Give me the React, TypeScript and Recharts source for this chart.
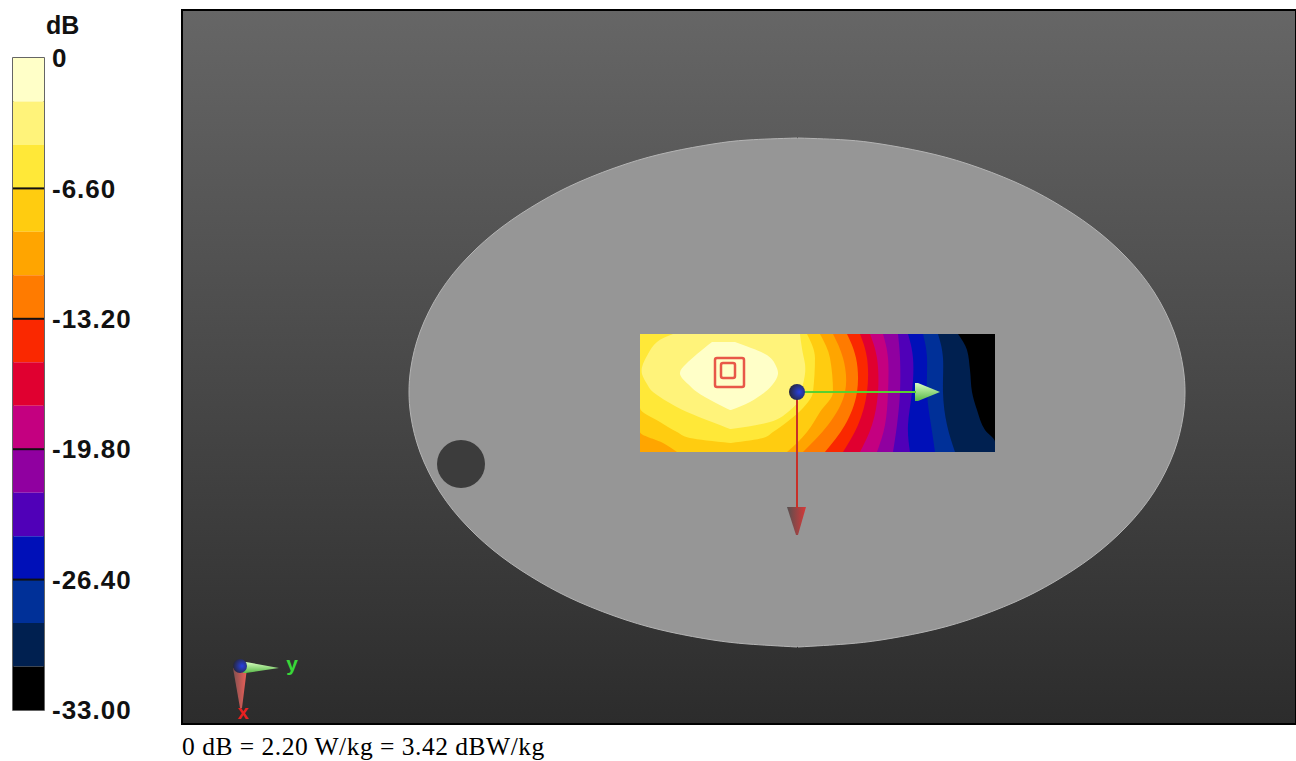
import React from "react";
import {
  Area,
  Bar,
  BarChart,
  ComposedChart,
  ReferenceArea,
  ReferenceDot,
  ReferenceLine,
  XAxis,
  YAxis,
} from "recharts";

// colour scale, 2.2 dB per step, top to bottom
const stepColors = [
  "#ffffc8", "#fff37a", "#ffe838", "#ffcc10", "#ffa500",
  "#ff7b00", "#fa2800", "#e00030", "#c40080", "#9000a0",
  "#5000b8", "#0010b8", "#003098", "#002050", "#000000",
];
const stepSize = [-2.2, -2.2, -2.2, -2.2, -2.2, -2.2, -2.2, -2.2, -2.2, -2.2, -2.2, -2.2, -2.2, -2.2, -2.2];
const dbTicks = [0, -6.6, -13.2, -19.8, -26.4, -33];

type Row = [number, number, number]; // y, left, right

// phantom outline, picture units
const phantom: Row[] = [
  [138, 797, 798], [140, 748, 846], [144, 713, 881], [152, 670, 924], [164, 626, 968], [182, 579, 1015],
  [202, 540, 1054], [227, 502, 1092], [257, 468, 1126], [292, 440, 1154], [332, 420, 1174], [367, 411, 1183],
  [392, 409, 1185], [417, 411, 1183], [452, 420, 1174], [492, 440, 1154], [527, 468, 1126], [557, 502, 1092],
  [582, 540, 1054], [602, 579, 1015], [620, 626, 968], [632, 670, 924], [640, 713, 881], [644, 748, 846], [647, 797, 798],
];

// iso-dB regions of the scan, from the lowest level up
const band14: Row[] = [[334, 640, 995], [452, 640, 995]];
const band13: Row[] = [[334, 640, 958], [350, 640, 967], [370, 640, 970], [392, 640, 972], [410, 640, 977], [430, 640, 985], [442, 640, 995], [452, 640, 995]];
const band12: Row[] = [[334, 640, 938], [358, 640, 943], [392, 640, 943], [425, 640, 947], [452, 640, 955]];
const band11: Row[] = [[334, 640, 923], [358, 640, 927], [392, 640, 927], [425, 640, 931], [452, 640, 935]];
const band10: Row[] = [[334, 640, 908], [358, 640, 913], [392, 640, 912], [425, 640, 908], [452, 640, 910]];
const band9: Row[] = [[334, 640, 898], [358, 640, 900], [392, 640, 900], [425, 640, 897], [452, 640, 893]];
const band8: Row[] = [[334, 640, 883], [358, 640, 888], [392, 640, 888], [425, 640, 885], [452, 640, 877]];
const band7: Row[] = [[334, 640, 870], [358, 640, 877], [392, 640, 878], [425, 640, 872], [452, 640, 860]];
const band6: Row[] = [[334, 640, 860], [358, 640, 867], [392, 640, 867], [425, 640, 858], [452, 640, 843]];
const band5: Row[] = [[334, 640, 847], [358, 640, 856], [392, 640, 857], [425, 640, 845], [452, 640, 825]];
const band4: Row[] = [[334, 640, 833], [358, 640, 843], [392, 640, 845], [425, 640, 828], [452, 640, 803]];
const band3: Row[] = [[334, 640, 820], [358, 640, 830], [392, 640, 833], [412, 640, 820], [432, 640, 807], [443, 663, 797], [452, 677, 787]];
const band2: Row[] = [[334, 640, 807], [358, 640, 815], [392, 640, 813], [408, 640, 803], [422, 660, 787], [432, 677, 773], [438, 690, 763], [443, 730, 731]];
const band1: Row[] = [[334, 673, 800], [342, 657, 801], [354, 648, 803], [364, 643, 805], [374, 642, 805], [384, 647, 803], [392, 653, 801], [402, 668, 798], [412, 687, 788], [422, 712, 770], [429, 730, 731]];
const band0: Row[] = [[342, 712, 735], [354, 697, 765], [364, 686, 775], [374, 680, 778], [384, 688, 773], [392, 697, 765], [402, 714, 750], [410, 730, 731]];
const bands = [band14, band13, band12, band11, band10, band9, band8, band7, band6, band5, band4, band3, band2, band1, band0];
// these touch the scan edge part way down, a natural spline overshoots there
const edgeBands = [band13, band3, band2];

// axis cones
const greenCone: Row[] = [[383, 915, 918], [392, 915, 940], [401, 915, 918]];
const redCone: Row[] = [[507, 787, 806], [535, 796, 798]];
const triadGreen: Row[] = [[662, 243, 246], [668, 243, 279], [673, 243, 246]];
const triadRed: Row[] = [[668, 233, 247], [708, 240, 242]];

const rows = (list: Row[]) => list.map(([y, l, r]) => ({ y, x: [l, r] }));
const colorRow = [{ name: "dB", ...Object.fromEntries(stepSize.map((v, i) => [`s${i}`, v])) }];

const labelFont = { fontFamily: "Liberation Sans", fontWeight: 700, fontSize: 26, fill: "#111", letterSpacing: 1 };

function ColorBar() {
  return (
    <BarChart
      width={180}
      height={730}
      data={colorRow}
      margin={{ top: 58, right: 36, left: 13, bottom: 20 }}
      barCategoryGap={0}
    >
      <XAxis hide dataKey="name" />
      <YAxis
        orientation="right"
        width={100}
        domain={[-33, 0]}
        ticks={dbTicks}
        interval={0}
        axisLine={false}
        tickLine={false}
        tickSize={0}
        tickMargin={8}
        tick={labelFont}
        tickFormatter={(v: number) => (v === 0 ? "0" : v.toFixed(2))}
      />
      {stepColors.map((c, i) => (
        <Bar key={c} dataKey={`s${i}`} stackId="db" fill={c} isAnimationActive={false} />
      ))}
      {dbTicks.slice(1, 5).map((t) => (
        <ReferenceLine key={t} y={t} stroke="#111" strokeWidth={2} />
      ))}
      <ReferenceArea y1={0} y2={-33} fill="none" stroke="#333" strokeWidth={1.5} />
    </BarChart>
  );
}

function FieldPlot() {
  return (
    <ComposedChart width={1296} height={761} layout="vertical" margin={{ top: 0, right: 0, left: 0, bottom: 0 }}>
      <defs>
        <linearGradient id="bgFill" x1="0" y1="0" x2="0" y2="1">
          <stop offset="0%" stopColor="#666666" />
          <stop offset="100%" stopColor="#2c2c2c" />
        </linearGradient>
        <linearGradient id="greenFill" x1="0" y1="0" x2="0" y2="1">
          <stop offset="0%" stopColor="#d8ffc0" />
          <stop offset="100%" stopColor="#58b848" />
        </linearGradient>
        <linearGradient id="redFill" x1="0" y1="0" x2="1" y2="0">
          <stop offset="0%" stopColor="#555050" />
          <stop offset="100%" stopColor="#d83838" />
        </linearGradient>
        <linearGradient id="triadRedFill" x1="0" y1="0" x2="1" y2="0">
          <stop offset="0%" stopColor="#805050" />
          <stop offset="100%" stopColor="#f06058" />
        </linearGradient>
        <radialGradient id="ballFill" cx="65%" cy="50%" r="65%">
          <stop offset="0%" stopColor="#2840e0" />
          <stop offset="100%" stopColor="#262638" />
        </radialGradient>
      </defs>
      <XAxis hide type="number" dataKey="x" domain={[0, 1296]} allowDataOverflow />
      <YAxis hide type="number" dataKey="y" domain={[0, 761]} allowDataOverflow />

      <ReferenceArea x1={182} x2={1296} y1={10} y2={724} fill="url(#bgFill)" fillOpacity={1} stroke="#000" strokeWidth={2} />

      <Area data={rows(phantom)} dataKey="x" type="natural" fill="#969696" fillOpacity={1} stroke="#b4b4b4" strokeWidth={1} isAnimationActive={false} />
      <ReferenceDot x={461} y={464} r={24} fill="#3c3c3c" stroke="none" />

      {bands.map((band, i) => (
        <Area
          key={i}
          data={rows(band)}
          dataKey="x"
          type={edgeBands.includes(band) ? "monotoneY" : "natural"}
          fill={stepColors[14 - i]}
          fillOpacity={1}
          stroke="none"
          isAnimationActive={false}
        />
      ))}

      <ReferenceArea x1={715} x2={744} y1={358} y2={387} fill="none" stroke="#e85848" strokeWidth={2.5} radius={2} />
      <ReferenceArea x1={721} x2={735} y1={363} y2={378} fill="none" stroke="#e85848" strokeWidth={2.5} radius={2} />

      <ReferenceLine segment={[{ x: 797, y: 392 }, { x: 916, y: 392 }]} stroke="#58d030" strokeWidth={2} />
      <Area data={rows(greenCone)} dataKey="x" type="linear" fill="url(#greenFill)" fillOpacity={1} stroke="none" isAnimationActive={false} />
      <ReferenceLine segment={[{ x: 797, y: 392 }, { x: 797, y: 508 }]} stroke="#c83028" strokeWidth={2} />
      <Area data={rows(redCone)} dataKey="x" type="linear" fill="url(#redFill)" fillOpacity={1} stroke="none" isAnimationActive={false} />
      <ReferenceDot x={797} y={392} r={8} fill="url(#ballFill)" stroke="none" />

      <Area data={rows(triadRed)} dataKey="x" type="linear" fill="url(#triadRedFill)" fillOpacity={1} stroke="none" isAnimationActive={false} />
      <Area data={rows(triadGreen)} dataKey="x" type="linear" fill="url(#greenFill)" fillOpacity={1} stroke="none" isAnimationActive={false} />
      <ReferenceDot x={240} y={666} r={7} fill="url(#ballFill)" stroke="none" />
      <ReferenceDot
        x={292}
        y={664}
        r={0}
        label={{ value: "y", position: "center", fill: "#38d838", fontFamily: "Liberation Sans", fontWeight: 700, fontSize: 21 }}
      />
      <ReferenceDot
        x={243}
        y={712}
        r={0}
        label={{ value: "x", position: "center", fill: "#e82020", fontFamily: "Liberation Sans", fontWeight: 700, fontSize: 20 }}
      />
    </ComposedChart>
  );
}

export default function App() {
  return (
    <div style={{ position: "absolute", left: 0, top: 0, width: 1296, height: 761, overflow: "hidden", background: "#fff" }}>
      <div style={{ position: "absolute", left: 0, top: 0 }}>
        <FieldPlot />
      </div>
      <div style={{ position: "absolute", left: 0, top: 0 }}>
        <ColorBar />
      </div>
      <div
        style={{
          position: "absolute",
          left: 46,
          top: 11,
          fontFamily: "Liberation Sans",
          fontWeight: 700,
          fontSize: 25,
          color: "#111",
        }}
      >
        dB
      </div>
      <div
        style={{
          position: "absolute",
          left: 182,
          top: 734,
          fontFamily: "Liberation Serif",
          fontSize: 25.5,
          letterSpacing: 0.5,
          lineHeight: "26px",
          color: "#000",
          whiteSpace: "nowrap",
        }}
      >
        0 dB = 2.20 W/kg = 3.42 dBW/kg
      </div>
    </div>
  );
}
